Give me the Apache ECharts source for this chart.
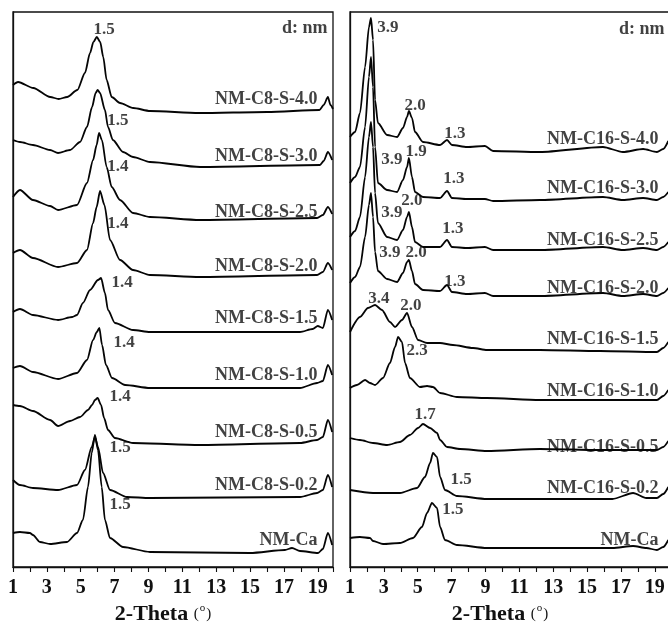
<!DOCTYPE html>
<html>
<head>
<meta charset="utf-8">
<script src="https://cdn.jsdelivr.net/npm/echarts@6/dist/echarts.min.js"></script>
<style>html,body{margin:0;padding:0;background:#fff;}#c{width:668px;height:623px;}</style>
</head>
<body>
<div id="c"></div>
<script>
// ---------- data (x = 2-Theta in degrees, y = stacked intensity, arbitrary units) ----------
const tickLabels = [1, 3, 5, 7, 9, 11, 13, 15, 17, 19];

// Left panel: NM-C8 series
const c8_40 = [[1.0,482],[1.3,485],[2.2,479],[3.2,470],[3.7,468],[4.2,470],[4.8,477],[5.25,494],[5.55,514],[5.75,525],[5.95,530],[6.15,525],[6.33,510],[6.53,487],[6.83,470],[7.32,464],[8.1,459],[9.1,456],[12,454],[16,455],[19.1,457],[19.35,462],[19.6,470],[19.75,462],[19.9,458]];
const c8_30 = [[1.0,427],[1.41,425],[2.18,422],[3.19,417],[3.66,414],[4.37,417],[4.96,425],[5.37,440],[5.67,460],[5.88,474],[6.0,477],[6.14,474],[6.43,457],[6.61,440],[6.9,427],[7.5,415],[8.09,410],[9.09,405],[12.05,400],[19.13,402],[19.35,406],[19.6,415],[19.85,407]];
const c8_25 = [[1.0,370],[1.41,377],[2.18,367],[3.19,361],[3.66,357],[4.78,362],[5.37,384],[5.73,407],[5.94,422],[6.08,434],[6.25,427],[6.53,400],[6.83,380],[7.32,367],[8.09,354],[9.09,350],[12.05,347],[18.96,349],[19.3,352],[19.6,360],[19.85,353]];
const c8_20 = [[1.0,314],[1.41,317],[2.18,309],[3.66,300],[4.78,304],[5.37,317],[5.73,344],[5.94,360],[6.14,376],[6.4,362],[6.73,327],[7.32,307],[8.09,297],[9.09,292],[12.05,290],[18.96,292],[19.3,295],[19.6,304],[19.85,297]];
const c8_15 = [[1.0,255],[1.41,258],[2.18,252],[3.66,247],[4.5,250],[4.78,252],[5.13,264],[5.55,277],[6.02,287],[6.2,289],[6.43,274],[6.61,257],[7.02,244],[8.09,237],[9.09,235],[17.95,235],[18.7,238],[19.0,241],[19.3,239],[19.6,257],[19.85,247]];
const c8_10 = [[1.0,199],[1.41,201],[2.18,195],[3.66,188],[4.78,194],[5.37,207],[5.73,227],[5.95,235],[6.1,239],[6.26,222],[6.49,202],[6.85,189],[7.62,182],[9.09,179],[17.95,179],[18.96,184],[19.3,186],[19.6,202],[19.85,192]];
const c8_05 = [[1.0,162],[1.41,161],[2.18,156],[3.19,147],[3.66,141],[4.37,146],[4.96,150],[5.43,157],[5.67,162],[5.84,167],[6.0,169],[6.2,162],[6.38,149],[6.61,137],[7.02,129],[8.09,124],[12.05,122],[17.95,124],[18.96,127],[19.3,130],[19.6,147],[19.85,135]];
const c8_02 = [[1.0,87],[1.41,82],[2.18,79],[3.66,77],[4.78,82],[5.25,97],[5.65,120],[5.84,130],[6.02,120],[6.32,94],[6.73,77],[7.73,70],[9.09,69],[17.95,70],[18.96,74],[19.3,77],[19.6,92],[19.85,80]];
const ca_left = [[1.0,34],[1.41,35],[2.0,34],[2.18,32],[2.59,25],[3.19,23],[4.19,25],[4.78,34],[5.13,47],[5.43,80],[5.65,114],[5.84,132],[6.02,117],[6.24,80],[6.43,47],[6.73,29],[7.5,20],[9.09,15],[15.0,14],[17.06,17],[17.48,19],[17.95,16],[19.02,14],[19.3,18],[19.6,34],[19.85,22]];

// Right panel: NM-C16 series
const c16_40 = [[1.0,430],[1.3,435],[1.59,454],[1.89,500],[2.12,540],[2.24,549],[2.36,527],[2.48,467],[2.65,444],[3.19,432],[3.78,430],[4.13,439],[4.37,450],[4.48,456],[4.66,449],[4.84,435],[5.31,425],[6.32,422],[6.73,427],[7.02,422],[7.91,420],[8.97,421],[9.45,416],[12.22,415],[15.94,420],[17.12,415],[18.31,418],[19.13,415],[19.5,418],[19.8,426]];
const c16_30 = [[1.0,384],[1.3,390],[1.59,400],[1.89,440],[2.12,490],[2.24,510],[2.36,480],[2.48,420],[2.65,384],[3.19,377],[3.78,375],[4.13,387],[4.37,400],[4.48,409],[4.66,390],[4.84,375],[5.31,370],[6.32,369],[6.73,376],[7.02,369],[7.91,368],[8.97,368],[9.45,366],[12.22,367],[15.94,370],[17.12,367],[18.31,369],[19.13,367],[19.5,370],[19.8,375]];
const c16_25 = [[1.0,330],[1.3,336],[1.59,350],[1.89,390],[2.12,430],[2.24,445],[2.36,420],[2.48,374],[2.65,344],[3.19,330],[3.78,327],[4.13,337],[4.37,350],[4.48,355],[4.66,340],[4.84,325],[5.31,320],[6.32,320],[6.73,327],[7.02,320],[7.91,319],[8.97,320],[9.45,317],[12.22,317],[15.94,320],[17.12,317],[18.31,319],[19.13,317],[19.5,320],[19.8,325]];
const c16_20 = [[1.0,284],[1.3,290],[1.59,300],[1.89,330],[2.12,362],[2.24,374],[2.36,350],[2.48,315],[2.65,296],[3.19,288],[3.78,285],[4.13,294],[4.37,305],[4.48,307],[4.66,296],[4.84,283],[5.31,277],[6.32,276],[6.73,282],[7.02,275],[7.91,273],[8.97,274],[9.45,271],[12.22,271],[15.94,274],[17.12,271],[18.31,273],[19.13,271],[19.5,274],[19.8,279]];
const c16_15 = [[1.0,235],[1.59,250],[2.06,259],[2.48,262],[2.89,257],[3.36,245],[3.66,240],[4.07,247],[4.37,254],[4.66,240],[5.02,227],[5.55,224],[6.32,224],[7.08,222],[8.27,219],[9.09,217],[12.22,217],[15.77,216],[19.13,215],[19.5,219],[19.8,225]];
const c16_10 = [[1.0,179],[1.41,182],[1.89,187],[2.18,184],[2.48,182],[2.95,189],[3.36,204],[3.66,220],[3.84,230],[4.07,225],[4.25,204],[4.54,189],[5.13,180],[5.55,181],[5.9,180],[6.32,174],[7.32,170],[9.09,169],[12.22,167],[15.77,167],[19.13,167],[19.5,171],[19.8,177]];
const c16_05 = [[1.0,129],[1.59,127],[2.36,124],[3.19,122],[3.95,125],[4.54,132],[5.02,139],[5.31,143],[5.73,139],[6.14,134],[6.32,127],[6.73,120],[7.5,118],[9.09,116],[12.22,118],[15.77,117],[19.13,117],[19.5,120],[19.8,126]];
const c16_02 = [[1.0,77],[2.36,74],[3.95,74],[4.96,79],[5.43,90],[5.73,104],[5.9,114],[6.14,110],[6.32,90],[6.61,77],[7.32,71],[9.09,68],[12.22,68],[16.5,68],[17.72,74],[18.5,69],[19.13,69],[19.5,73],[19.8,80]];
const ca_right = [[1.0,29],[1.59,30],[2.18,29],[2.36,26],[2.95,23],[3.95,24],[4.72,29],[5.25,40],[5.55,54],[5.84,64],[6.14,59],[6.32,40],[6.61,27],[7.32,22],[9.09,19],[12.22,19],[16.5,19],[17.72,21],[18.5,19],[19.13,17],[19.5,20],[19.8,27]];

// Sample names: [x, y, text] (right-aligned at x)
const namesLeft = [[19.02,468,'NM-C8-S-4.0'],[19.02,411,'NM-C8-S-3.0'],[19.02,355,'NM-C8-S-2.5'],[19.02,301,'NM-C8-S-2.0'],[19.02,249,'NM-C8-S-1.5'],[19.02,192,'NM-C8-S-1.0'],[19.02,135,'NM-C8-S-0.5'],[19.02,82,'NM-C8-S-0.2'],[19.02,27,'NM-Ca'],[19.6,539,'d: nm']];
const namesRight = [[19.25,428,'NM-C16-S-4.0'],[19.25,379,'NM-C16-S-3.0'],[19.25,327,'NM-C16-S-2.5'],[19.25,279,'NM-C16-S-2.0'],[19.25,228,'NM-C16-S-1.5'],[19.25,176,'NM-C16-S-1.0'],[19.25,120,'NM-C16-S-0.5'],[19.25,79,'NM-C16-S-0.2'],[19.25,27,'NM-Ca'],[19.6,538,'d: nm']];
// d-spacing labels: [x, y, text] (centered)
const dLeft = [[6.38,537,'1.5'],[7.2,446,'1.5'],[7.2,400,'1.4'],[7.2,343,'1.4'],[7.44,284,'1.4'],[7.56,224,'1.4'],[7.32,170,'1.4'],[7.32,119,'1.5'],[7.32,62,'1.5']];
const dRight = [[3.24,539,'3.9'],[4.84,461,'2.0'],[7.2,433,'1.3'],[3.48,407,'3.9'],[4.9,415,'1.9'],[7.14,388,'1.3'],[3.48,354,'3.9'],[4.66,366,'2.0'],[7.08,338,'1.3'],[3.36,314,'3.9'],[4.9,314,'2.0'],[7.2,285,'1.3'],[2.71,268,'3.4'],[4.6,261,'2.0'],[4.96,216,'2.3'],[5.43,152,'1.7'],[7.56,87,'1.5'],[7.08,57,'1.5']];

const leftCurves = [c8_40, c8_30, c8_25, c8_20, c8_15, c8_10, c8_05, c8_02, ca_left];
const rightCurves = [c16_40, c16_30, c16_25, c16_20, c16_15, c16_10, c16_05, c16_02, ca_right];

// ---------- chart ----------
const FONT = "'Liberation Serif', 'Times New Roman', serif";
const INK = '#111111';

function xAxis(gi) {
  return {
    type: 'value', gridIndex: gi, min: 1, max: 19.9, interval: 1,
    axisLine: { show: true, lineStyle: { color: INK, width: 1.3 } },
    axisTick: { show: true, inside: false, length: 5, lineStyle: { color: INK, width: 1.1 } },
    axisLabel: {
      interval: 0, margin: 11, color: INK, fontFamily: FONT, fontWeight: 'bold', fontSize: 20,
      formatter: v => tickLabels.includes(v) ? String(v) : ''
    },
    splitLine: { show: false },
    name: '{a|2-Theta }{b|(}{c|o}{b|)}',
    nameLocation: 'middle', nameGap: 34,
    nameTextStyle: {
      padding: [0, 20, 0, 0],
      rich: {
        a: { fontFamily: FONT, fontWeight: 'bold', fontSize: 22, color: INK },
        b: { fontFamily: FONT, fontSize: 15, color: INK },
        c: { fontFamily: FONT, fontSize: 11, color: INK, verticalAlign: 'top', padding: [0, 1, 6, 1] }
      }
    }
  };
}
function yAxis(gi) {
  return {
    type: 'value', gridIndex: gi, min: 0, max: 555,
    axisLine: { show: true, lineStyle: { color: INK, width: 1.3 } },
    axisTick: { show: false }, axisLabel: { show: false }, splitLine: { show: false }
  };
}
function curve(data, gi) {
  return {
    type: 'line', xAxisIndex: gi, yAxisIndex: gi, data: data, symbol: 'none',
    smooth: 0.25, smoothMonotone: 'x', silent: true, animation: false,
    lineStyle: { color: '#050505', width: 1.8 }
  };
}
function labels(data, gi, align) {
  return {
    type: 'scatter', xAxisIndex: gi, yAxisIndex: gi, data: data, symbolSize: 1,
    itemStyle: { color: 'rgba(0,0,0,0)' }, silent: true, animation: false, clip: false,
    label: {
      show: true, formatter: p => p.data[2],
      position: align === 'right' ? 'left' : 'inside', distance: 0,
      fontFamily: FONT, fontWeight: 'bold', fontSize: align === 'right' ? 18 : 17, color: INK
    }
  };
}

const series = [];
leftCurves.forEach(d => series.push(curve(d, 0)));
rightCurves.forEach(d => series.push(curve(d, 1)));
series.push(labels(namesLeft, 0, 'right'));
series.push(labels(namesRight, 1, 'right'));
series.push(labels(dLeft, 0, 'center'));
series.push(labels(dRight, 1, 'center'));

const gridBase = { top: 12, width: 320, height: 555, show: true, borderColor: INK, borderWidth: 1.3,
  backgroundColor: 'transparent', containLabel: false, outerBoundsMode: 'none' };

const chart = echarts.init(document.getElementById('c'), null, { renderer: 'canvas' });
chart.setOption({
  backgroundColor: '#fff',
  animation: false,
  grid: [
    Object.assign({ left: 13 }, gridBase),
    Object.assign({ left: 350 }, gridBase)
  ],
  xAxis: [xAxis(0), xAxis(1)],
  yAxis: [yAxis(0), yAxis(1)],
  series: series
});
</script>
</body>
</html>
